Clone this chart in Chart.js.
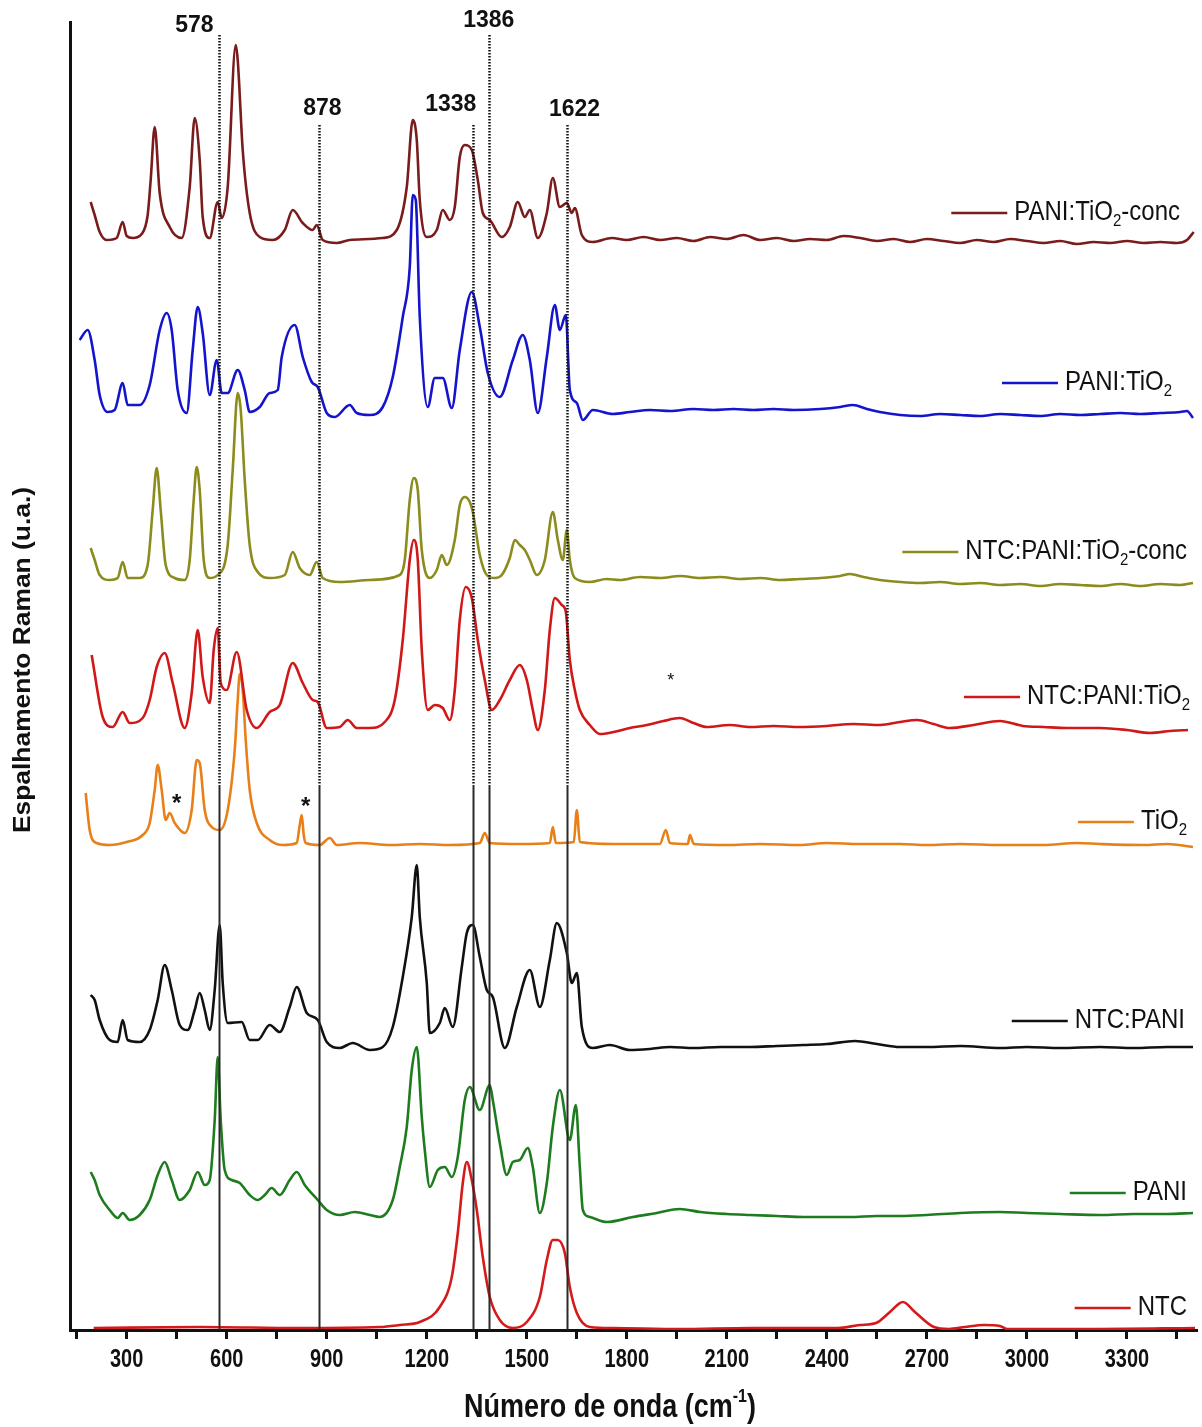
<!DOCTYPE html>
<html>
<head>
<meta charset="utf-8">
<script src="https://cdn.jsdelivr.net/npm/chart.js@4.4.1/dist/chart.umd.min.js"></script>
<style>
  html, body { margin: 0; padding: 0; background: #fff; }
</style>
</head>
<body>
<canvas id="ramanChart" width="1202" height="1427"></canvas>
<script>
// Raman spectra, [wavenumber cm-1, intensity (u.a., already stacked)]
const paniTiO2Conc = [[192,1128],[204,1115],[219,1098],[240,1090],[270,1092],[288,1108],[300,1094],[318,1092],[345,1096],[363,1115],[372,1150],[384,1203],[399,1137],[429,1103],[465,1092],[489,1143],[504,1212],[519,1170],[528,1113],[549,1092],[573,1128],[585,1112],[603,1143],[627,1285],[633,1270],[648,1180],[669,1117],[699,1093],[738,1090],[774,1100],[798,1120],[828,1107],[858,1100],[870,1105],[888,1090],[930,1087],[969,1090],[1068,1092],[1110,1100],[1140,1143],[1158,1210],[1170,1190],[1179,1130],[1200,1093],[1230,1100],[1248,1120],[1269,1110],[1284,1123],[1299,1173],[1314,1185],[1335,1180],[1353,1150],[1368,1117],[1389,1110],[1425,1093],[1449,1103],[1473,1128],[1494,1113],[1509,1120],[1533,1092],[1560,1117],[1578,1152],[1599,1123],[1620,1127],[1635,1117],[1644,1122],[1665,1095],[1698,1088],[1755,1092],[1800,1090],[1850,1093],[1900,1090],[1950,1092],[2000,1089],[2050,1093],[2100,1091],[2150,1095],[2200,1090],[2250,1092],[2300,1089],[2350,1091],[2400,1090],[2450,1094],[2500,1092],[2550,1089],[2600,1091],[2650,1088],[2700,1091],[2750,1089],[2800,1087],[2850,1090],[2900,1088],[2950,1091],[3000,1089],[3050,1087],[3100,1089],[3150,1086],[3200,1088],[3250,1087],[3300,1089],[3350,1087],[3400,1088],[3450,1087],[3480,1090],[3500,1098]];

const paniTiO2 = [[159,990],[183,1000],[204,970],[219,935],[243,918],[264,920],[288,947],[303,925],[339,925],[369,945],[399,1000],[420,1017],[435,1000],[453,940],[480,917],[498,980],[513,1023],[528,997],[549,935],[570,970],[585,937],[603,937],[633,960],[654,940],[669,918],[699,923],[729,937],[753,940],[765,973],[804,1005],[828,973],[855,948],[873,943],[900,917],[924,913],[969,925],[990,917],[1029,915],[1068,923],[1098,953],[1128,1013],[1149,1063],[1158,1135],[1167,1130],[1179,1013],[1203,923],[1224,952],[1248,952],[1275,922],[1299,980],[1335,1038],[1359,1003],[1383,957],[1419,933],[1458,970],[1488,995],[1509,970],[1533,917],[1560,973],[1584,1025],[1599,1000],[1617,1015],[1629,940],[1650,927],[1668,910],[1698,920],[1758,916],[1809,918],[1870,920],[1930,919],[2000,921],[2060,920],[2120,921],[2180,920],[2240,921],[2300,920],[2380,921],[2440,923],[2478,925],[2520,921],[2559,918],[2620,915],[2680,914],[2740,916],[2800,915],[2860,914],[2920,916],[2980,915],[3040,914],[3100,916],[3160,915],[3220,916],[3280,917],[3340,916],[3400,917],[3460,918],[3480,919],[3498,912]];

const ntcPaniTiO2Conc = [[192,782],[204,770],[219,755],[249,750],[273,752],[288,768],[303,752],[339,752],[363,765],[378,820],[390,862],[402,820],[417,765],[444,752],[474,750],[489,770],[501,830],[510,863],[519,840],[531,770],[549,752],[573,755],[603,785],[618,860],[633,937],[642,920],[654,850],[669,785],[693,758],[729,752],[774,755],[798,778],[819,762],[849,755],[870,768],[888,752],[939,748],[1029,750],[1119,755],[1134,770],[1149,830],[1161,852],[1173,840],[1185,780],[1209,752],[1230,760],[1245,775],[1260,765],[1284,790],[1299,825],[1314,833],[1329,828],[1338,818],[1359,775],[1380,755],[1404,752],[1425,755],[1449,772],[1464,790],[1479,785],[1494,780],[1509,770],[1530,755],[1554,770],[1578,818],[1593,790],[1608,770],[1620,800],[1629,770],[1644,752],[1689,748],[1740,751],[1779,750],[1840,753],[1900,752],[1960,754],[2019,752],[2080,753],[2140,751],[2200,752],[2260,750],[2319,751],[2380,752],[2440,754],[2469,756],[2510,753],[2559,750],[2620,748],[2680,747],[2740,748],[2800,746],[2860,747],[2920,745],[2980,746],[3040,744],[3100,746],[3160,745],[3220,744],[3280,746],[3340,744],[3400,746],[3460,745],[3498,747]];

const ntcPaniTiO2 = [[195,675],[228,613],[258,603],[288,618],[309,607],[348,612],[369,630],[390,663],[414,677],[438,647],[474,602],[495,637],[513,700],[528,653],[549,627],[561,680],[573,702],[582,647],[600,640],[630,678],[660,620],[690,602],[729,618],[759,625],[798,667],[828,647],[858,630],[873,628],[900,602],[939,603],[963,610],[990,602],[1029,602],[1074,608],[1104,630],[1128,690],[1149,770],[1161,790],[1173,770],[1185,680],[1203,620],[1224,625],[1248,622],[1269,610],[1284,640],[1299,710],[1317,743],[1335,732],[1353,690],[1374,650],[1395,620],[1419,630],[1449,650],[1479,665],[1500,650],[1518,620],[1533,600],[1554,640],[1569,700],[1584,732],[1605,725],[1617,718],[1629,670],[1644,640],[1659,620],[1689,605],[1719,596],[1760,598],[1809,602],[1860,605],[1910,609],[1959,612],[2000,607],[2040,603],[2109,605],[2170,603],[2240,604],[2319,603],[2400,604],[2480,606],[2560,605],[2619,608],[2670,610],[2720,606],[2769,602],[2840,605],[2919,609],[2988,604],[3050,603],[3120,602],[3219,602],[3300,600],[3369,597],[3430,599],[3483,600]];

const tiO2 = [[177,537],[189,500],[210,487],[249,485],[300,488],[348,495],[369,507],[384,540],[393,565],[405,540],[417,510],[429,517],[444,507],[474,497],[495,520],[510,570],[519,567],[534,520],[555,503],[579,500],[603,520],[624,580],[633,630],[639,656],[648,640],[657,590],[669,540],[690,507],[729,490],[768,485],[810,487],[819,505],[825,515],[831,495],[837,487],[879,485],[909,492],[930,485],[999,487],[1090,485],[1179,486],[1270,485],[1359,487],[1374,497],[1389,487],[1480,486],[1569,487],[1578,503],[1587,487],[1641,488],[1650,520],[1659,488],[1760,486],[1899,486],[1917,500],[1929,487],[1983,486],[1989,495],[2001,486],[2100,485],[2200,486],[2319,485],[2400,487],[2500,486],[2619,486],[2700,485],[2800,486],[2919,485],[3050,485],[3150,487],[3219,486],[3350,485],[3420,486],[3498,483]];

const ntcPani = [[192,335],[204,330],[219,310],[249,290],[273,288],[288,310],[303,290],[339,288],[369,300],[393,330],[414,365],[435,340],[459,305],[483,300],[504,320],[519,337],[534,320],[549,300],[564,340],[579,405],[588,347],[603,307],[645,308],[669,290],[693,290],[729,305],[759,298],[789,323],[810,343],[840,317],[873,310],[900,288],[939,282],[978,287],[1029,280],[1068,283],[1098,303],[1128,353],[1155,413],[1170,465],[1179,413],[1200,347],[1209,297],[1239,307],[1254,322],[1278,303],[1305,363],[1320,397],[1338,405],[1359,373],[1380,340],[1398,333],[1434,282],[1470,323],[1509,360],[1539,323],[1569,370],[1590,407],[1620,377],[1635,347],[1650,357],[1665,303],[1698,282],[1749,285],[1809,280],[1869,281],[1930,283],[2000,282],[2080,283],[2169,283],[2250,284],[2330,285],[2400,286],[2484,289],[2550,286],[2619,283],[2700,283],[2800,284],[2919,282],[3000,283],[3100,282],[3219,283],[3320,282],[3420,283],[3498,283]];

const pani = [[192,158],[204,150],[219,135],[249,120],[273,112],[288,117],[309,110],[339,115],[369,130],[393,155],[414,168],[435,150],[459,130],[489,140],[513,158],[534,145],[549,150],[564,210],[573,273],[582,210],[594,160],[615,150],[639,147],[669,135],[693,130],[714,135],[735,142],[759,135],[789,150],[810,158],[834,145],[873,130],[900,120],[939,115],[984,118],[1029,115],[1059,113],[1098,130],[1119,163],[1140,203],[1155,260],[1170,283],[1185,213],[1194,180],[1209,143],[1233,160],[1254,163],[1275,153],[1293,173],[1314,230],[1329,243],[1359,220],[1389,245],[1398,230],[1419,187],[1440,155],[1458,168],[1479,170],[1503,182],[1518,163],[1539,117],[1560,147],[1578,203],[1599,240],[1629,190],[1647,225],[1659,163],[1668,120],[1689,113],[1740,108],[1818,113],[1890,117],[1959,121],[2020,118],[2100,116],[2169,115],[2250,114],[2330,113],[2400,113],[2469,113],[2550,114],[2620,114],[2700,115],[2800,117],[2919,118],[3000,117],[3100,116],[3219,115],[3320,116],[3420,116],[3498,117]];

const ntc = [[201,2],[519,3],[819,2],[1059,3],[1119,5],[1179,8],[1239,23],[1275,53],[1293,97],[1308,147],[1320,168],[1335,150],[1350,120],[1368,73],[1389,33],[1419,10],[1458,2],[1500,8],[1539,33],[1560,70],[1578,90],[1593,90],[1614,77],[1629,43],[1650,17],[1689,3],[1758,2],[1959,1],[2169,2],[2433,2],[2499,5],[2547,7],[2589,18],[2628,28],[2664,18],[2721,3],[2766,1],[2814,3],[2871,5],[2919,4],[2940,1],[2985,1],[3219,1],[3504,2]];

const seriesData = [paniTiO2Conc, paniTiO2, ntcPaniTiO2Conc, ntcPaniTiO2, tiO2, ntcPani, pani, ntc];
const seriesColors = ['#7a1c1c', '#1414cc', '#8c8c1e', '#d01818', '#e8801a', '#111111', '#1e7c1e', '#d41a1a'];
// legend text, split so "2" of TiO2 can be a subscript
const seriesLabels = [
    [['PANI:TiO'], ['2', 'sub'], ['-conc']],
    [['PANI:TiO'], ['2', 'sub']],
    [['NTC:PANI:TiO'], ['2', 'sub'], ['-conc']],
    [['NTC:PANI:TiO'], ['2', 'sub']],
    [['TiO'], ['2', 'sub']],
    [['NTC:PANI']],
    [['PANI']],
    [['NTC']]
];
// where each legend entry ends (wavenumber) and its height (u.a.)
const legendRight = [3459, 3435, 3480, 3489, 3480, 3474, 3480, 3480];
const legendLevel = [1117, 947, 778, 633, 508, 309, 137, 22];

const xTickLabels = [300, 600, 900, 1200, 1500, 1800, 2100, 2400, 2700, 3000, 3300];
const xTickMarks = [150, 300, 450, 600, 750, 900, 1050, 1200, 1350, 1500, 1650, 1800, 1950, 2100, 2250, 2400, 2550, 2700, 2850, 3000, 3150, 3300, 3450];

const peakMarks = [578, 878, 1338, 1386, 1622];
const peakLineTops = [1295, 1205, 1205, 1295, 1205];
const dottedDownTo = 545;
const peakLabelLevel = [1305, 1222, 1226, 1310, 1221];
const peakLabelShift = [-25, 3, -22, 0, 7];

const stars = [[450, 530, 'big'], [837, 527, 'big'], [1932, 652, 'small']];

function drawStretched(ctx, str, x, y, font, align, sy) {
    ctx.save();
    ctx.translate(x, y);
    ctx.scale(1, sy);
    ctx.font = font;
    ctx.textAlign = align;
    ctx.textBaseline = 'middle';
    ctx.fillText(str, 0, 0);
    ctx.restore();
}

function drawRich(ctx, parts, xRight, y, size) {
    const mainFont = size + 'px "Liberation Sans", Arial, sans-serif';
    const subFont = Math.round(size * 0.62) + 'px "Liberation Sans", Arial, sans-serif';
    let total = 0;
    parts.forEach(p => {
        ctx.font = p[1] === 'sub' ? subFont : mainFont;
        total += ctx.measureText(p[0]).width;
    });
    let cx = xRight - total;
    const start = cx;
    ctx.save();
    ctx.translate(0, y);
    ctx.scale(1, 1.12);
    ctx.textBaseline = 'middle';
    ctx.textAlign = 'left';
    parts.forEach(p => {
        const sub = p[1] === 'sub';
        ctx.font = sub ? subFont : mainFont;
        ctx.fillText(p[0], cx, sub ? size * 0.32 : 0);
        cx += ctx.measureText(p[0]).width;
    });
    ctx.restore();
    return start;
}

const ramanText = {
    id: 'ramanText',
    afterDatasetsDraw(chart) {
        const { ctx, chartArea, scales: { x, y } } = chart;
        peakMarks.forEach((wn, i) => {
            const px = Math.round(x.getPixelForValue(wn)) + 0.5;
            const top = y.getPixelForValue(peakLineTops[i]);
            const mid = y.getPixelForValue(dottedDownTo);
            ctx.save();
            ctx.strokeStyle = '#111';
            ctx.lineWidth = 2.5;
            ctx.setLineDash([1.5, 1.5]);
            ctx.beginPath();
            ctx.moveTo(px, top);
            ctx.lineTo(px, mid);
            ctx.stroke();
            ctx.setLineDash([]);
            ctx.lineWidth = 2;
            ctx.strokeStyle = '#2a2a2a';
            ctx.beginPath();
            ctx.moveTo(px, mid);
            ctx.lineTo(px, chartArea.bottom);
            ctx.stroke();
            ctx.restore();
        });
    },
    afterDraw(chart) {
        const { ctx, scales: { x, y } } = chart;
        ctx.save();
        ctx.fillStyle = '#111';

        // peak labels
        peakMarks.forEach((wn, i) => {
            drawStretched(ctx, String(wn), x.getPixelForValue(wn) + peakLabelShift[i],
                y.getPixelForValue(peakLabelLevel[i]), 'bold 23px "Liberation Sans", Arial, sans-serif', 'center', 1.05);
        });

        // x tick labels
        xTickLabels.forEach(v => {
            drawStretched(ctx, String(v), x.getPixelForValue(v), 1360,
                'bold 20px "Liberation Sans", Arial, sans-serif', 'center', 1.25);
        });

        // stars
        stars.forEach(s => {
            const big = s[2] === 'big';
            drawStretched(ctx, '*', x.getPixelForValue(s[0]), y.getPixelForValue(s[1]) + (big ? 4 : 3),
                (big ? 'bold 24px' : '18px') + ' "Liberation Sans", Arial, sans-serif', 'center', 1);
        });

        // legend entries next to each spectrum
        seriesLabels.forEach((parts, i) => {
            const ly = y.getPixelForValue(legendLevel[i]);
            const start = drawRich(ctx, parts, x.getPixelForValue(legendRight[i]), ly, 24);
            ctx.strokeStyle = seriesColors[i];
            ctx.lineWidth = 2.5;
            ctx.beginPath();
            ctx.moveTo(start - 63, ly);
            ctx.lineTo(start - 7, ly);
            ctx.stroke();
        });

        // axis titles
        ctx.save();
        ctx.translate(610, 1408);
        ctx.scale(1, 1.2);
        ctx.font = 'bold 27px "Liberation Sans", Arial, sans-serif';
        ctx.textBaseline = 'middle';
        ctx.textAlign = 'left';
        const main = 'Número de onda (cm';
        const supFont = 'bold 16px "Liberation Sans", Arial, sans-serif';
        const wMain = ctx.measureText(main).width;
        ctx.font = supFont;
        const wSup = ctx.measureText('-1').width;
        ctx.font = 'bold 27px "Liberation Sans", Arial, sans-serif';
        const wEnd = ctx.measureText(')').width;
        let tx = -(wMain + wSup + wEnd) / 2;
        ctx.fillText(main, tx, 0);
        tx += wMain;
        ctx.font = supFont;
        ctx.fillText('-1', tx, -9);
        tx += wSup;
        ctx.font = 'bold 27px "Liberation Sans", Arial, sans-serif';
        ctx.fillText(')', tx, 0);
        ctx.restore();

        ctx.save();
        ctx.translate(23, 660);
        ctx.rotate(-Math.PI / 2);
        ctx.scale(1.1, 1);
        ctx.font = 'bold 24px "Liberation Sans", Arial, sans-serif';
        ctx.textAlign = 'center';
        ctx.textBaseline = 'middle';
        ctx.fillText('Espalhamento Raman (u.a.)', 0, 0);
        ctx.restore();

        ctx.restore();
    }
};

Chart.defaults.font.family = '"Liberation Sans", Arial, sans-serif';

new Chart(document.getElementById('ramanChart'), {
    type: 'line',
    data: {
        datasets: seriesData.map((d, i) => ({
            data: d,
            borderColor: seriesColors[i],
            borderWidth: 2.6,
            pointRadius: 0,
            cubicInterpolationMode: 'monotone',
            fill: false
        }))
    },
    options: {
        responsive: false,
        animation: false,
        layout: { padding: { top: 22, right: 5, left: 0, bottom: 0 } },
        plugins: { legend: { display: false }, tooltip: { enabled: false } },
        scales: {
            x: {
                type: 'linear',
                min: 130,
                max: 3510,
                afterFit(scale) { scale.height = 97; },
                afterBuildTicks(scale) { scale.ticks = xTickMarks.map(v => ({ value: v })); },
                ticks: { display: false },
                grid: { drawOnChartArea: false, drawTicks: true, tickLength: 9, tickWidth: 3, color: '#111' },
                border: { display: true, width: 3, color: '#111' }
            },
            y: {
                min: 0,
                max: 1308,
                afterFit(scale) { scale.width = 70; },
                ticks: { display: false },
                grid: { display: false },
                border: { display: true, width: 3, color: '#111' }
            }
        }
    },
    plugins: [ramanText]
});
</script>
</body>
</html>
